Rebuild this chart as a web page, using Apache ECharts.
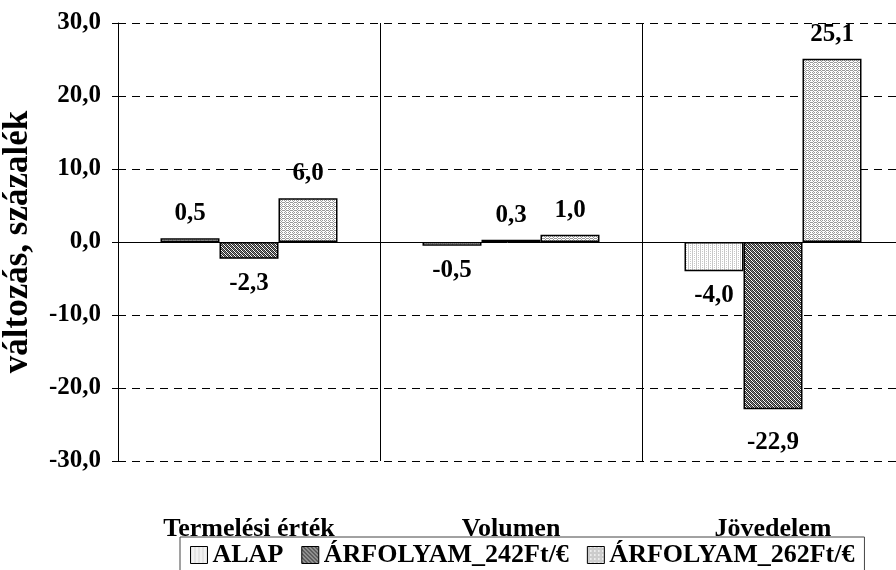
<!DOCTYPE html>
<html>
<head>
<meta charset="utf-8">
<script src="https://cdn.jsdelivr.net/npm/echarts@6/dist/echarts.min.js"></script>
<style>
html,body{margin:0;padding:0;background:#fff;}
#chart{width:896px;height:570px;}
</style>
</head>
<body>
<div id="chart"></div>
<script>
var categories = ['Termelési érték', 'Volumen', 'Jövedelem'];
var seriesNames = ['ALAP', 'ÁRFOLYAM_242Ft/€', 'ÁRFOLYAM_262Ft/€'];
var alap = [0.5, -0.5, -4.0];
var arf242 = [-2.3, 0.3, -22.9];
var arf262 = [6.0, 1.0, 25.1];
var yTicks = [-30, -20, -10, 0, 10, 20, 30];

var FONT = "'Liberation Serif', 'Times New Roman', serif";

function makePattern(type) {
  var c = document.createElement('canvas');
  c.width = 4; c.height = 4;
  var ctx = c.getContext('2d');
  ctx.fillStyle = '#fff';
  ctx.fillRect(0, 0, 4, 4);
  if (type === 0) {
    ctx.fillStyle = '#c8c8c8';
    ctx.fillRect(0, 0, 1, 4);
    ctx.fillRect(2, 1, 1, 1);
    ctx.fillRect(2, 3, 1, 1);
  } else if (type === 1) {
    ctx.fillStyle = '#2a2a2a';
    for (var i = 0; i < 4; i++) {
      ctx.fillRect(i, i, 1, 1);
      ctx.fillRect((i + 2) % 4, i, 1, 1);
    }
    ctx.fillStyle = '#888';
    for (var j = 0; j < 4; j++) {
      ctx.fillRect((j + 1) % 4, j, 1, 1);
    }
  } else {
    ctx.fillStyle = '#9a9a9a';
    ctx.fillRect(0, 0, 1, 1);
    ctx.fillRect(2, 0, 1, 1);
    ctx.fillRect(1, 1, 1, 1);
    ctx.fillRect(3, 2, 1, 1);
    ctx.fillRect(0, 2, 1, 1);
    ctx.fillRect(1, 3, 1, 1);
    ctx.fillRect(2, 2, 1, 1);
  }
  return { image: c, repeat: 'repeat' };
}

function fmt(v) { return v.toFixed(1).replace('.', ','); }

function buildData(arr) {
  return arr.map(function (v) {
    return {
      value: v,
      label: {
        position: v < 0 ? 'bottom' : 'top',
        distance: v < -20 ? 21 : 12
      }
    };
  });
}

var allSeries = [alap, arf242, arf262];
var series = allSeries.map(function (arr, i) {
  var s = {
    name: seriesNames[i],
    type: 'bar',
    barWidth: 59,
    barGap: '0%',
    data: buildData(arr),
    itemStyle: {
      color: makePattern(i),
      borderColor: '#000',
      borderWidth: 1.5
    },
    label: {
      show: true,
      fontFamily: FONT,
      fontWeight: 'bold',
      fontSize: 25,
      color: '#000',
      formatter: function (p) { return fmt(p.value); }
    }
  };
  if (i === 0) {
    s.markLine = {
      silent: true,
      symbol: 'none',
      label: { show: false },
      lineStyle: { color: '#000', width: 1, type: 'solid' },
      data: [{ yAxis: 0 }]
    };
  }
  return s;
});

var chart = echarts.init(document.getElementById('chart'), null, { renderer: 'canvas' });
chart.setOption({
  animation: false,
  backgroundColor: '#fff',
  grid: { left: 118, width: 786, top: 23, height: 438, containLabel: false, outerBoundsMode: 'none' },
  legend: {
    data: seriesNames,
    left: 180,
    top: 537,
    icon: 'rect',
    itemWidth: 17,
    itemHeight: 17,
    itemGap: 18,
    padding: [5, 10, 6, 10],
    borderColor: '#444',
    borderWidth: 1,
    textStyle: { fontFamily: FONT, fontWeight: 'bold', fontSize: 26, color: '#000', padding: [0, 0, 0, 0] },
    itemStyle: { borderColor: '#000', borderWidth: 1 }
  },
  xAxis: {
    type: 'category',
    data: categories,
    position: 'bottom',
    axisLine: { show: false, onZero: false },
    axisTick: { show: false },
    axisLabel: { fontFamily: FONT, fontWeight: 'bold', fontSize: 26, color: '#000', margin: 55 },
    splitLine: { show: true, lineStyle: { color: '#000', width: 1, type: 'solid' } }
  },
  yAxis: {
    type: 'value',
    min: yTicks[0],
    max: yTicks[yTicks.length - 1],
    interval: 10,
    name: 'változás, százalék',
    nameLocation: 'middle',
    nameGap: 83,
    nameTextStyle: { fontFamily: FONT, fontWeight: 'bold', fontSize: 35, color: '#000' },
    axisLine: { show: true, lineStyle: { color: '#000', width: 1 } },
    axisTick: { show: true, inside: false, length: 6, lineStyle: { color: '#000' } },
    axisLabel: { fontFamily: FONT, fontWeight: 'bold', fontSize: 25, color: '#000', margin: 17,
      formatter: function (v) { return fmt(v); } },
    splitLine: { show: true, lineStyle: { color: '#000', width: 1, type: [8, 6] } }
  },
  series: series
});
</script>
</body>
</html>
